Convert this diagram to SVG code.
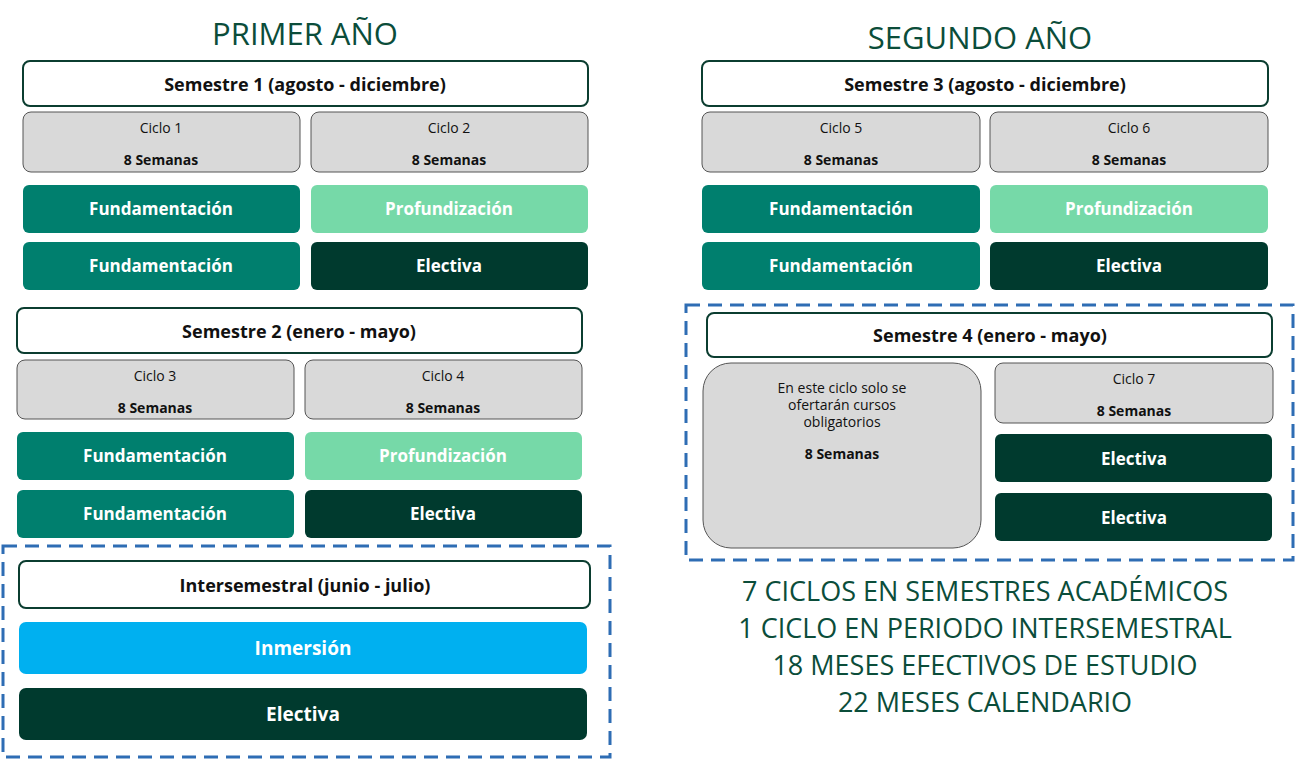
<svg xmlns="http://www.w3.org/2000/svg" width="1296" height="760" viewBox="0 0 1296 760">
<style>
text{font-family:"Open Sans","Liberation Sans",sans-serif;text-anchor:middle}
.hd{fill:#fff;stroke:#0B3D30;stroke-width:2}
.cy{fill:#D9D9D9;stroke:#555;stroke-width:1}
.f{fill:#007F6E}.p{fill:#76D9A8}.e{fill:#003A2E}.i{fill:#00B0F0}
.ht{font-size:18px;font-weight:bold;fill:#111}
.ct{font-size:14px;fill:#111}
.cb{font-size:14px;font-weight:bold;fill:#111}
.bt{font-size:17px;font-weight:bold;fill:#fff}
.ti{font-size:31px;fill:#0B4D3A}
.sm{font-size:27px;fill:#0B4D3A}
.dash{fill:none;stroke:#2E6DB4;stroke-width:3;stroke-dasharray:14 8}
</style>
<rect width="1296" height="760" fill="#fff"/>
<text class="ti" x="305" y="45">PRIMER AÑO</text>
<text class="ti" x="980" y="49">SEGUNDO AÑO</text>
<g id="sem1">
<rect class="hd" x="23" y="61" width="565" height="45" rx="7"/><text class="ht" x="305" y="91">Semestre 1 (agosto - diciembre)</text>
<rect class="cy" x="23" y="112" width="277" height="60" rx="8"/><text class="ct" x="161" y="133">Ciclo 1</text><text class="cb" x="161" y="165">8 Semanas</text>
<rect class="cy" x="311" y="112" width="277" height="60" rx="8"/><text class="ct" x="449" y="133">Ciclo 2</text><text class="cb" x="449" y="165">8 Semanas</text>
<rect class="f" x="23" y="185" width="277" height="48" rx="6"/><text class="bt" x="161" y="215">Fundamentación</text>
<rect class="p" x="311" y="185" width="277" height="48" rx="6"/><text class="bt" x="449" y="215">Profundización</text>
<rect class="f" x="23" y="242" width="277" height="48" rx="6"/><text class="bt" x="161" y="272">Fundamentación</text>
<rect class="e" x="311" y="242" width="277" height="48" rx="6"/><text class="bt" x="449" y="272">Electiva</text>
</g>
<g id="sem2">
<rect class="hd" x="17" y="308" width="565" height="45" rx="7"/><text class="ht" x="299" y="338">Semestre 2 (enero - mayo)</text>
<rect class="cy" x="17" y="360" width="277" height="59" rx="8"/><text class="ct" x="155" y="381">Ciclo 3</text><text class="cb" x="155" y="413">8 Semanas</text>
<rect class="cy" x="305" y="360" width="277" height="59" rx="8"/><text class="ct" x="443" y="381">Ciclo 4</text><text class="cb" x="443" y="413">8 Semanas</text>
<rect class="f" x="17" y="432" width="277" height="48" rx="6"/><text class="bt" x="155" y="462">Fundamentación</text>
<rect class="p" x="305" y="432" width="277" height="48" rx="6"/><text class="bt" x="443" y="462">Profundización</text>
<rect class="f" x="17" y="490" width="277" height="48" rx="6"/><text class="bt" x="155" y="520">Fundamentación</text>
<rect class="e" x="305" y="490" width="277" height="48" rx="6"/><text class="bt" x="443" y="520">Electiva</text>
</g>
<g id="inter">
<rect class="dash" x="3" y="546" width="607" height="211"/>
<rect class="hd" x="19" y="561" width="571" height="47" rx="7"/><text class="ht" x="305" y="592">Intersemestral (junio - julio)</text>
<rect class="i" x="19" y="622" width="568" height="52" rx="7"/><text class="bt" x="303" y="655" style="font-size:19px">Inmersión</text>
<rect class="e" x="19" y="688" width="568" height="52" rx="7"/><text class="bt" x="303" y="721" style="font-size:19px">Electiva</text>
</g>
<g id="sem3">
<rect class="hd" x="702" y="61" width="566" height="45" rx="7"/><text class="ht" x="985" y="91">Semestre 3 (agosto - diciembre)</text>
<rect class="cy" x="702" y="112" width="278" height="60" rx="8"/><text class="ct" x="841" y="133">Ciclo 5</text><text class="cb" x="841" y="165">8 Semanas</text>
<rect class="cy" x="990" y="112" width="278" height="60" rx="8"/><text class="ct" x="1129" y="133">Ciclo 6</text><text class="cb" x="1129" y="165">8 Semanas</text>
<rect class="f" x="702" y="185" width="278" height="48" rx="6"/><text class="bt" x="841" y="215">Fundamentación</text>
<rect class="p" x="990" y="185" width="278" height="48" rx="6"/><text class="bt" x="1129" y="215">Profundización</text>
<rect class="f" x="702" y="242" width="278" height="48" rx="6"/><text class="bt" x="841" y="272">Fundamentación</text>
<rect class="e" x="990" y="242" width="278" height="48" rx="6"/><text class="bt" x="1129" y="272">Electiva</text>
</g>
<g id="sem4">
<rect class="dash" x="686" y="305" width="607" height="255"/>
<rect class="hd" x="707" y="313" width="565" height="44" rx="7"/><text class="ht" x="990" y="342">Semestre 4 (enero - mayo)</text>
<rect class="cy" x="703" y="363" width="278" height="185" rx="28"/>
<text class="ct" x="842" y="393">En este ciclo solo se</text><text class="ct" x="842" y="410">ofertarán cursos</text><text class="ct" x="842" y="427">obligatorios</text>
<text class="cb" x="842" y="459">8 Semanas</text>
<rect class="cy" x="995" y="363" width="278" height="60" rx="8"/><text class="ct" x="1134" y="384">Ciclo 7</text><text class="cb" x="1134" y="416">8 Semanas</text>
<rect class="e" x="995" y="434" width="277" height="48" rx="6"/><text class="bt" x="1134" y="465">Electiva</text>
<rect class="e" x="995" y="493" width="277" height="48" rx="6"/><text class="bt" x="1134" y="524">Electiva</text>
</g>
<g id="summary">
<text class="sm" x="985" y="601">7 CICLOS EN SEMESTRES ACADÉMICOS</text>
<text class="sm" x="985" y="638">1 CICLO EN PERIODO INTERSEMESTRAL</text>
<text class="sm" x="985" y="675">18 MESES EFECTIVOS DE ESTUDIO</text>
<text class="sm" x="985" y="712">22 MESES CALENDARIO</text>
</g>
<g id="connectors"/>
</svg>
